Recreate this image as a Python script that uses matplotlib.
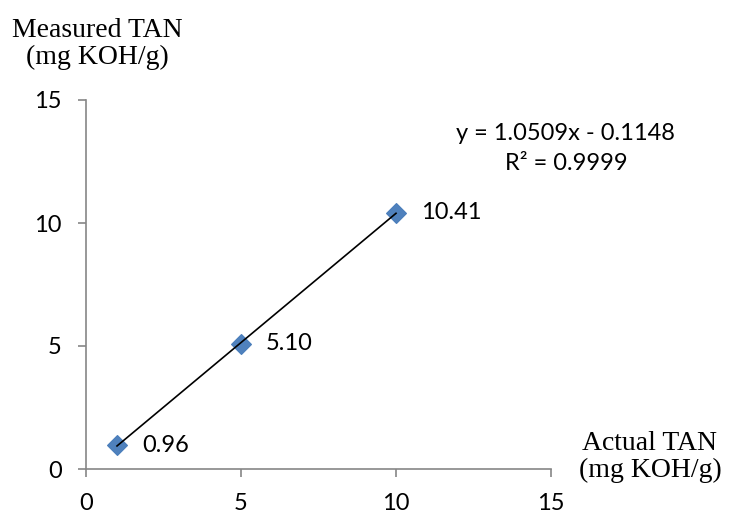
import numpy as np
import matplotlib.pyplot as plt

# calibration points
actual_tan = [1, 5, 10]
measured_tan = [0.96, 5.10, 10.41]
point_labels = ['0.96', '5.10', '10.41']
ticks = [0, 5, 10, 15]

# trend line as reported
slope = 1.0509
intercept = -0.1148
r2 = 0.9999

sans = ['Lato', 'DejaVu Sans']
serif = ['Liberation Serif', 'DejaVu Serif']
W, H = 737, 514

fig = plt.figure(figsize=(W / 100, H / 100), dpi=100)
ax = fig.add_axes([86 / W, 1 - 469 / H, 465 / W, 369 / H])

ax.plot(actual_tan, measured_tan, linestyle='none', marker='D', markersize=10.5,
        markerfacecolor='#4F81BD', markeredgecolor='#4A7EBB', markeredgewidth=0.8, zorder=3)

xs = np.array([min(actual_tan), max(actual_tan)])
ax.plot(xs, slope * xs + intercept, color='black', linewidth=1.2, zorder=4)

for x, y, lab in zip(actual_tan, measured_tan, point_labels):
    ax.annotate(lab, (x, y), xytext=(18, 0), textcoords='offset points',
                ha='left', va='center', fontsize=17, family=sans)

fig.text(565 / W, 1 - 133 / H, 'y = 1.0509x - 0.1148', fontsize=17,
         family=sans, ha='center', va='center')
fig.text(566 / W, 1 - 163 / H, 'R² = %.4f' % r2, fontsize=17,
         family=sans, ha='center', va='center')

ax.set_xlim(0, 15)
ax.set_ylim(0, 15)
ax.set_xticks(ticks)
ax.set_yticks(ticks)
ax.set_xticklabels([str(t) for t in ticks], fontsize=17, family=sans)
ax.set_yticklabels([str(t) for t in ticks], fontsize=17, family=sans)
ax.tick_params(direction='out', length=6, width=1.2, color='#868686')
ax.tick_params(axis='x', pad=11)
ax.tick_params(axis='y', pad=11.5)

for side in ['top', 'right']:
    ax.spines[side].set_visible(False)
for side in ['left', 'bottom']:
    ax.spines[side].set_color('#868686')
    ax.spines[side].set_linewidth(1.2)

fig.text(97 / W, 1 - 18 / H, 'Measured TAN\n(mg KOH/g)', ha='center', va='top',
         fontsize=20, family=serif, linespacing=1.1)
fig.text(650 / W, 1 - 431 / H, 'Actual TAN\n(mg KOH/g)', ha='center', va='top',
         fontsize=20, family=serif, linespacing=1.1)

fig.savefig('out.png', dpi=100)
